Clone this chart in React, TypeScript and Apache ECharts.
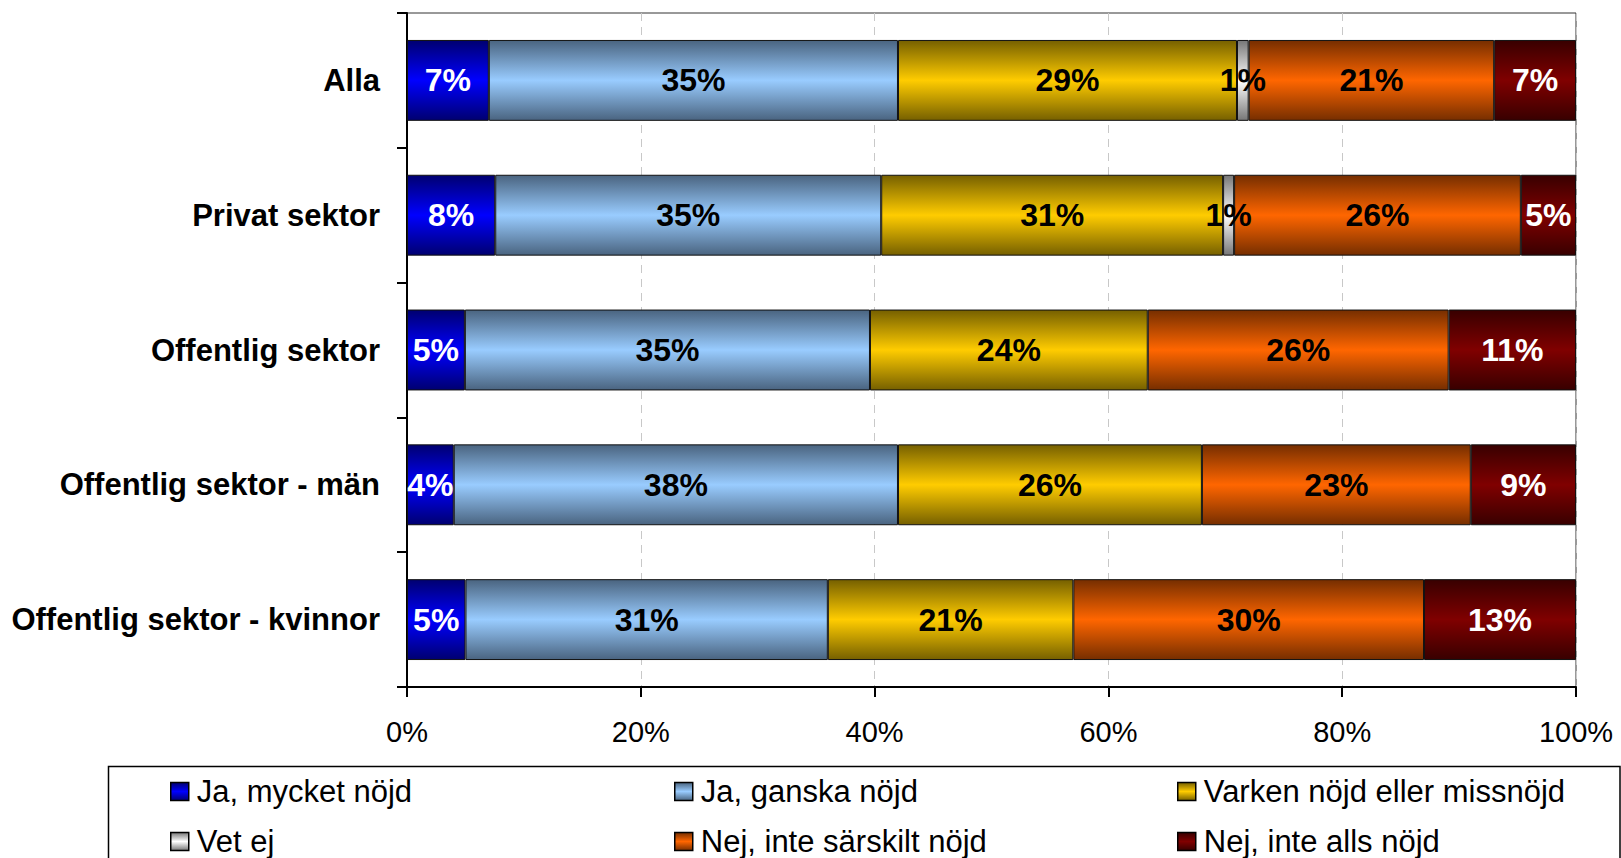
import React, { useEffect, useRef } from "react";
import * as echarts from "echarts";

const categories = [
  "Alla",
  "Privat sektor",
  "Offentlig sektor",
  "Offentlig sektor - män",
  "Offentlig sektor - kvinnor",
];
const seriesNames = [
  "Ja, mycket nöjd",
  "Ja, ganska nöjd",
  "Varken nöjd eller missnöjd",
  "Vet ej",
  "Nej, inte särskilt nöjd",
  "Nej, inte alls nöjd",
];
const jaMycket = [7, 8, 5, 4, 5];
const jaGanska = [35, 35, 35, 38, 31];
const varken = [29, 31, 24, 26, 21];
const vetEj = [1, 1, 0, 0, 0];
const nejSarskilt = [21, 26, 26, 23, 30];
const nejAlls = [7, 5, 11, 9, 13];
const xTicks = [0, 20, 40, 60, 80, 100];

const seriesValues = [jaMycket, jaGanska, varken, vetEj, nejSarskilt, nejAlls];
// [edge, center] gradient colours
const seriesColors = [
  ["#000070", "#0000FF"],
  ["#4A6480", "#99CCFF"],
  ["#766000", "#FFCC00"],
  ["#777777", "#FFFFFF"],
  ["#762E00", "#FF6600"],
  ["#380000", "#800000"],
];
const labelColors = ["#FFFFFF", "#000000", "#000000", "#000000", "#000000", "#FFFFFF"];

const FONT = "'Liberation Sans', Arial, Helvetica, sans-serif";

// legend grid: column x positions and row y positions (layout only)
const legendCols = [170, 674, 1177];
const legendRows = [776, 826];

export default function App() {
  const ref = useRef<HTMLDivElement>(null);

  useEffect(() => {
    if (!ref.current) return;
    const chart = echarts.init(ref.current, null, { renderer: "svg" });

    const totals = categories.map((_, i) =>
      seriesValues.reduce((s, arr) => s + arr[i], 0)
    );

    const series = seriesNames.map((name, si) => ({
      name,
      type: "bar",
      stack: "total",
      barCategoryGap: "40%",
      itemStyle: {
        color: new echarts.graphic.LinearGradient(0, 0, 0, 1, [
          { offset: 0, color: seriesColors[si][0] },
          { offset: 0.5, color: seriesColors[si][1] },
          { offset: 1, color: seriesColors[si][0] },
        ]),
        borderColor: "#111111",
        borderWidth: 1,
      },
      label: {
        show: true,
        position: "inside",
        color: labelColors[si],
        fontFamily: FONT,
        fontWeight: "bold",
        fontSize: 32,
        formatter: (p: any) => (p.data && p.data.raw ? p.data.raw + "%" : ""),
      },
      data: seriesValues[si].map((v, i) =>
        v === 0 ? "-" : { value: (v / totals[i]) * 100, raw: v }
      ),
    }));

    const legends = seriesNames.map((name, si) => ({
      left: legendCols[si % 3],
      top: legendRows[Math.floor(si / 3)],
      width: 430,
      orient: "horizontal",
      padding: 0,
      itemWidth: 18,
      itemHeight: 18,
      selectedMode: false,
      icon: "rect",
      data: [name],
      itemStyle: { borderColor: "#000000", borderWidth: 1.5 },
      textStyle: {
        fontFamily: FONT,
        fontSize: 31,
        color: "#000000",
        lineHeight: 20,
        padding: [0, 0, 0, 3],
      },
    }));

    chart.setOption({
      animation: false,
      backgroundColor: "#FFFFFF",
      grid: {
        left: 407,
        top: 13,
        right: 45,
        bottom: 171,
        show: true,
        borderColor: "#333333",
        borderWidth: 1,
        backgroundColor: "transparent",
      },
      legend: legends,
      xAxis: {
        type: "value",
        min: xTicks[0],
        max: xTicks[xTicks.length - 1],
        interval: xTicks[1] - xTicks[0],
        axisLine: { show: true, lineStyle: { color: "#000000", width: 2 } },
        axisTick: { show: true, inside: false, length: 10, lineStyle: { color: "#000000", width: 2 } },
        axisLabel: {
          margin: 30,
          fontFamily: FONT,
          fontSize: 29,
          color: "#000000",
          formatter: "{value}%",
        },
        splitLine: {
          show: true,
          lineStyle: { color: "#C8C8C8", type: [8, 6], width: 1 },
        },
      },
      yAxis: {
        type: "category",
        inverse: true,
        data: categories,
        axisLine: { show: true, lineStyle: { color: "#000000", width: 2 } },
        axisTick: { show: true, inside: false, length: 10, lineStyle: { color: "#000000", width: 2 } },
        axisLabel: {
          margin: 27,
          fontFamily: FONT,
          fontSize: 31,
          fontWeight: "bold",
          color: "#000000",
        },
        splitLine: { show: false },
      },
      graphic: [
        {
          type: "rect",
          shape: { x: 108.5, y: 766.5, width: 1511.5, height: 200 },
          style: { fill: "none", stroke: "#000000", lineWidth: 1.5 },
          silent: true,
        },
      ],
      series,
    });

    return () => chart.dispose();
  }, []);

  return (
    <div
      ref={ref}
      style={{ position: "fixed", left: 0, top: 0, width: 1621, height: 858 }}
    />
  );
}
